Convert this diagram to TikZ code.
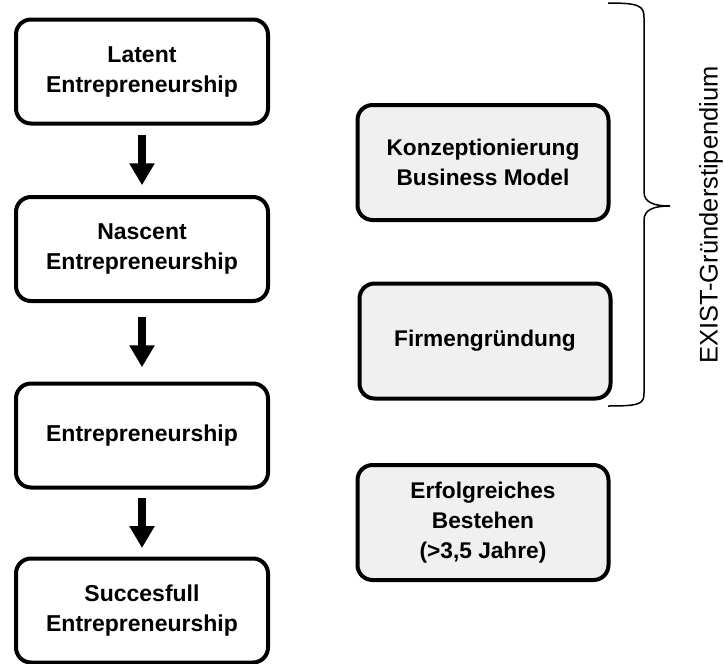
\documentclass[tikz,border=0pt]{standalone}
\usepackage{fontspec}
\setmainfont{Liberation Sans}
\newfontfamily\stagefont{Liberation Sans Bold}
\newfontfamily\phasefont{Liberation Sans Bold}
\usepackage{tikz}
\usetikzlibrary{calc, arrows.meta}
\definecolor{boxgray}{RGB}{240,240,240}

\begin{document}
\begin{tikzpicture}[x = 1pt, y = -1pt,
    stage/.style = {draw, rounded corners = 15pt, line width = 4pt, minimum width = 252pt, minimum height = 104pt, align = center, font = \stagefont\fontsize{23}{30}\selectfont},
    phase/.style = {stage, fill = boxgray, minimum width = 251pt, minimum height = 115pt, font = \phasefont\fontsize{22.7}{30}\selectfont},
    bigarrow/.style = {line width = 8pt, -{Triangle[width = 24pt, length = 22pt]}}]
        \useasboundingbox (0,0) rectangle (724,664);

        \node [stage] (lat) at (142, 71.5) {Latent\\Entrepreneurship};
        \node [stage] (nas) at (142, 249) {Nascent\\Entrepreneurship};
        \node [stage] (ent) at (142, 435.5) {Entrepreneurship};
        \node [stage] (suc) at (142, 610.5) {Succesfull\\Entrepreneurship};

        \foreach \a/\b in {lat/nas, nas/ent, ent/suc}
                 {
                   \draw [bigarrow] ($ (\a.south)!.5!(\b.north) + (0,-25) $) -- +(0,50);
                 }

                 \node [phase] (konz) at (483, 162.5) {Konzeptionierung\\Business Model};
                 \node [phase] (firm) at (485, 341) {Firmengr\"undung};
                 \node [phase] (erfo) at (483, 522.5) {Erfolgreiches\\Bestehen\\(>3,5 Jahre)};

                 \draw [line width = 1.5pt] (608,3) .. controls (640,3) and (644,6) .. (644,18) -- (644,192)
                       .. controls (644,203) and (655,206) .. (670,206)
                       .. controls (655,206) and (644,209) .. (644,220) -- (644,393)
                       .. controls (644,404) and (640,406) .. (608,406);
                 \node [rotate = 90, font = \fontsize{25.5}{30}\selectfont] (exist) at (711, 215) {EXIST-Gr\"understipendium};
      \end{tikzpicture}
\end{document}
